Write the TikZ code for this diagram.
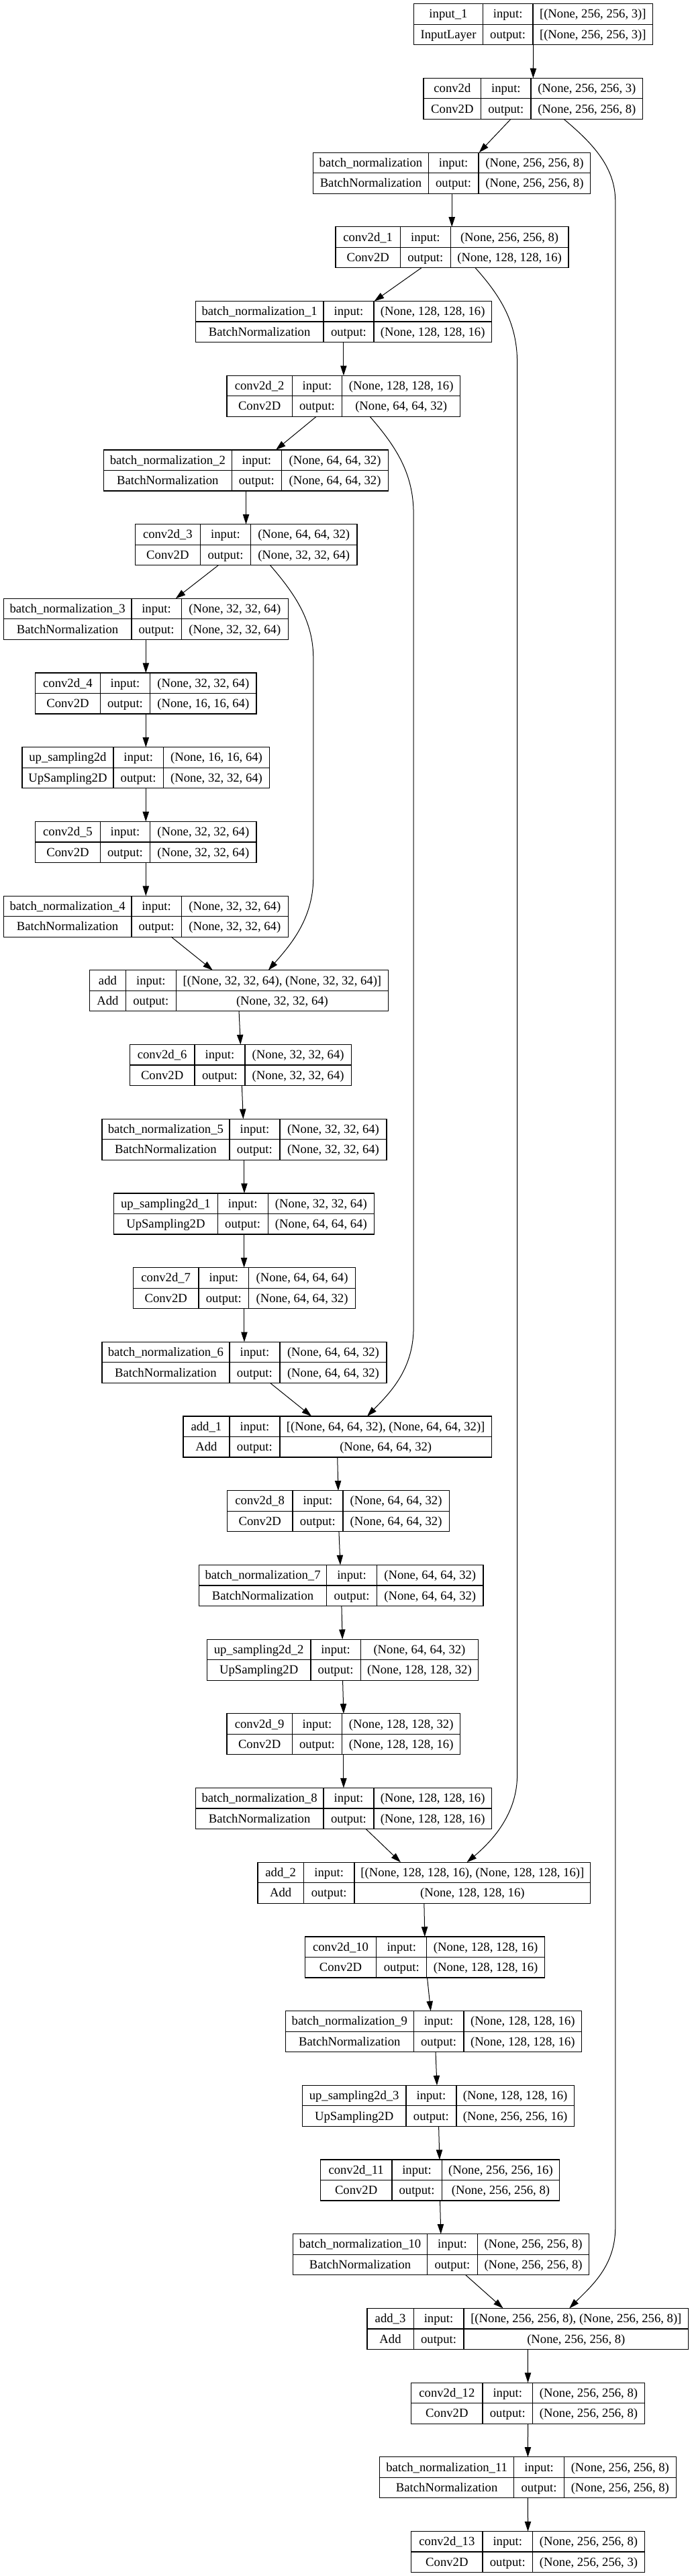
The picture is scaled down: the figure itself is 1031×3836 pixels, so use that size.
\documentclass[tikz,border=0pt]{standalone}
\usepackage{fontspec}
\setmainfont{Liberation Serif}
\usetikzlibrary{arrows.meta}
\newcommand\pxs{*0.75pt}
\newcommand\setcols[4]{\def\xa{#1}\def\xb{#2}\def\xc{#3}\def\xd{#4}}
\newcommand\layer[6]{%
  \pgfmathsetmacro\yt{5.7+110.7*#2}%
  \pgfmathsetmacro\ym{\yt+30.5}%
  \pgfmathsetmacro\yb{\yt+61}%
  \pgfmathsetmacro\ya{\yt+21.2}%
  \pgfmathsetmacro\yc{\yt+51.7}%
  \pgfmathsetmacro\bw{(\xd-\xa)*0.75}%
  \node[layerbox, minimum width=\bw pt] (#1) at ({(\xa+\xd)/2},\ym) {};
  \draw[cellline] (\xb,\yt) -- (\xb,\yb) (\xc,\yt) -- (\xc,\yb) (\xa,\ym) -- (\xd,\ym);
  \node[celltext] (#1-name) at ({(\xa+\xb)/2},\ya) {#3};
  \node[celltext] (#1-type) at ({(\xa+\xb)/2},\yc) {#4};
  \node[celltext] (#1-inl) at ({(\xb+\xc)/2},\ya) {input:};
  \node[celltext] (#1-outl) at ({(\xb+\xc)/2},\yc) {output:};
  \node[celltext] (#1-in) at ({(\xc+\xd)/2},\ya) {#5};
  \node[celltext] (#1-out) at ({(\xc+\xd)/2},\yc) {#6};
}
\tikzset{
  layerbox/.style={draw, line width=0.9pt, rectangle, inner sep=0pt, outer sep=0pt, minimum height=45.75pt},
  cellline/.style={line width=0.9pt},
  celltext/.style={inner sep=0pt, anchor=base, font=\fontsize{14}{16}\selectfont},
  edge/.style={line width=0.75pt, -{Triangle[length=11pt,width=7pt]}}
}
\begin{document}
\begin{tikzpicture}[x=0.75pt,y=-0.75pt]
\useasboundingbox (0,0) rectangle (1031,3836);
\fill[white] (0,0) rectangle (1031,3836);

\setcols{616.7}{719.3}{794}{972.7}
\layer{inp}{0}{input\_1}{InputLayer}{[(None, 256, 256, 3)]}{[(None, 256, 256, 3)]}
\setcols{631}{716.7}{791}{957.7}
\layer{cv0}{1}{conv2d}{Conv2D}{(None, 256, 256, 3)}{(None, 256, 256, 8)}
\setcols{466.7}{638.2}{713}{879.8}
\layer{bn0}{2}{batch\_normalization}{BatchNormalization}{(None, 256, 256, 8)}{(None, 256, 256, 8)}
\setcols{500}{596.5}{671.2}{847}
\layer{cv1}{3}{conv2d\_1}{Conv2D}{(None, 256, 256, 8)}{(None, 128, 128, 16)}
\setcols{291.3}{482}{556.9}{732.5}
\layer{bn1}{4}{batch\_normalization\_1}{BatchNormalization}{(None, 128, 128, 16)}{(None, 128, 128, 16)}
\setcols{338}{435.3}{509.6}{685.8}
\layer{cv2}{5}{conv2d\_2}{Conv2D}{(None, 128, 128, 16)}{(None, 64, 64, 32)}
\setcols{154.5}{345.2}{419.5}{578.6}
\layer{bn2}{6}{batch\_normalization\_2}{BatchNormalization}{(None, 64, 64, 32)}{(None, 64, 64, 32)}
\setcols{201.2}{298.5}{373.5}{531.9}
\layer{cv3}{7}{conv2d\_3}{Conv2D}{(None, 64, 64, 32)}{(None, 32, 32, 64)}
\setcols{5.3}{195.9}{270.2}{429.4}
\layer{bn3}{8}{batch\_normalization\_3}{BatchNormalization}{(None, 32, 32, 64)}{(None, 32, 32, 64)}
\setcols{52.6}{149.3}{223.6}{382}
\layer{cv4}{9}{conv2d\_4}{Conv2D}{(None, 32, 32, 64)}{(None, 16, 16, 64)}
\setcols{32.9}{169}{243.3}{401.7}
\layer{up0}{10}{up\_sampling2d}{UpSampling2D}{(None, 16, 16, 64)}{(None, 32, 32, 64)}
\setcols{52.6}{149.3}{223.6}{382}
\layer{cv5}{11}{conv2d\_5}{Conv2D}{(None, 32, 32, 64)}{(None, 32, 32, 64)}
\setcols{5.3}{195.9}{270.2}{429.4}
\layer{bn4}{12}{batch\_normalization\_4}{BatchNormalization}{(None, 32, 32, 64)}{(None, 32, 32, 64)}
\setcols{133.5}{187.4}{262.3}{578.6}
\layer{ad0}{13}{add}{Add}{[(None, 32, 32, 64), (None, 32, 32, 64)]}{(None, 32, 32, 64)}
\setcols{193.3}{290}{364.9}{523.4}
\layer{cv6}{14}{conv2d\_6}{Conv2D}{(None, 32, 32, 64)}{(None, 32, 32, 64)}
\setcols{151.9}{341.9}{416.9}{576}
\layer{bn5}{15}{batch\_normalization\_5}{BatchNormalization}{(None, 32, 32, 64)}{(None, 32, 32, 64)}
\setcols{169.6}{324.2}{399.1}{557.6}
\layer{up1}{16}{up\_sampling2d\_1}{UpSampling2D}{(None, 32, 32, 64)}{(None, 64, 64, 64)}
\setcols{198.6}{295.9}{370.8}{529.3}
\layer{cv7}{17}{conv2d\_7}{Conv2D}{(None, 64, 64, 64)}{(None, 64, 64, 32)}
\setcols{151.9}{341.9}{416.9}{576}
\layer{bn6}{18}{batch\_normalization\_6}{BatchNormalization}{(None, 64, 64, 32)}{(None, 64, 64, 32)}
\setcols{272.9}{341.9}{416.9}{732.5}
\layer{ad1}{19}{add\_1}{Add}{[(None, 64, 64, 32), (None, 64, 64, 32)]}{(None, 64, 64, 32)}
\setcols{338.6}{435.9}{510.9}{669.3}
\layer{cv8}{20}{conv2d\_8}{Conv2D}{(None, 64, 64, 32)}{(None, 64, 64, 32)}
\setcols{296.5}{486.6}{561.5}{720}
\layer{bn7}{21}{batch\_normalization\_7}{BatchNormalization}{(None, 64, 64, 32)}{(None, 64, 64, 32)}
\setcols{308.4}{462.9}{537.2}{712.7}
\layer{up2}{22}{up\_sampling2d\_2}{UpSampling2D}{(None, 64, 64, 32)}{(None, 128, 128, 32)}
\setcols{338}{435.3}{509.6}{685.8}
\layer{cv9}{23}{conv2d\_9}{Conv2D}{(None, 128, 128, 32)}{(None, 128, 128, 16)}
\setcols{291.3}{482}{556.9}{732.5}
\layer{bn8}{24}{batch\_normalization\_8}{BatchNormalization}{(None, 128, 128, 16)}{(None, 128, 128, 16)}
\setcols{384}{452.4}{528}{879.7}
\layer{ad2}{25}{add\_2}{Add}{[(None, 128, 128, 16), (None, 128, 128, 16)]}{(None, 128, 128, 16)}
\setcols{454.3}{560.8}{635.8}{811.4}
\layer{cv10}{26}{conv2d\_10}{Conv2D}{(None, 128, 128, 16)}{(None, 128, 128, 16)}
\setcols{425.4}{616.1}{691}{866.6}
\layer{bn9}{27}{batch\_normalization\_9}{BatchNormalization}{(None, 128, 128, 16)}{(None, 128, 128, 16)}
\setcols{450.4}{604.9}{679.9}{855.4}
\layer{up3}{28}{up\_sampling2d\_3}{UpSampling2D}{(None, 128, 128, 16)}{(None, 256, 256, 16)}
\setcols{477.4}{583.9}{658.2}{833.7}
\layer{cv11}{29}{conv2d\_11}{Conv2D}{(None, 256, 256, 16)}{(None, 256, 256, 8)}
\setcols{436.6}{636.5}{711.4}{877.8}
\layer{bn10}{30}{batch\_normalization\_10}{BatchNormalization}{(None, 256, 256, 8)}{(None, 256, 256, 8)}
\setcols{547}{616.1}{691}{1025.7}
\layer{ad3}{31}{add\_3}{Add}{[(None, 256, 256, 8), (None, 256, 256, 8)]}{(None, 256, 256, 8)}
\setcols{612.8}{718.9}{793.7}{960.3}
\layer{cv12}{32}{conv2d\_12}{Conv2D}{(None, 256, 256, 8)}{(None, 256, 256, 8)}
\setcols{565.6}{765.7}{840.5}{1007.2}
\layer{bn11}{33}{batch\_normalization\_11}{BatchNormalization}{(None, 256, 256, 8)}{(None, 256, 256, 8)}
\setcols{612.8}{718.9}{793.7}{960.3}
\layer{cv13}{34}{conv2d\_13}{Conv2D}{(None, 256, 256, 8)}{(None, 256, 256, 3)}

% straight connectors
\draw[edge] (inp.south) -- (cv0.south |- cv0.north);
\draw[edge] ([xshift=-33.35\pxs]cv0.south) -- ([xshift=40.55\pxs]bn0.north);
\draw[edge] (bn0.south) -- (bn0.south |- cv1.north);
\draw[edge] ([xshift=-45.6\pxs]cv1.south) -- ([xshift=45.7\pxs]bn1.north);
\draw[edge] (bn1.south) -- (cv2.north);
\draw[edge] ([xshift=-40.5\pxs]cv2.south) -- ([xshift=44.45\pxs]bn2.north);
\draw[edge] (bn2.south) -- (cv3.north);
\draw[edge] ([xshift=-41.05\pxs]cv3.south) -- ([xshift=44.35\pxs]bn3.north);
\draw[edge] (bn3.south) -- (bn3.south |- cv4.north);
\draw[edge] (cv4.south) -- (cv4.south |- up0.north);
\draw[edge] (up0.south) -- (up0.south |- cv5.north);
\draw[edge] (cv5.south) -- (cv5.south |- bn4.north);
\draw[edge] ([xshift=37.75\pxs]bn4.south) -- ([xshift=-39.15\pxs]ad0.north);
\draw[edge] (ad0.south) -- (cv6.north);
\draw[edge] ([xshift=2\pxs]cv6.south) -- ([xshift=-1.6\pxs]bn5.north);
\draw[edge] (bn5.south) -- (bn5.south |- up1.north);
\draw[edge] (up1.south) -- (up1.south |- cv7.north);
\draw[edge] (cv7.south) -- (cv7.south |- bn6.north);
\draw[edge] ([xshift=38.45\pxs]bn6.south) -- ([xshift=-38.5\pxs]ad1.north);
\draw[edge] (ad1.south) -- (cv8.north);
\draw[edge] ([xshift=1\pxs]cv8.south) -- ([xshift=-1.25\pxs]bn7.north);
\draw[edge] ([xshift=0.65\pxs]bn7.south) -- ([xshift=-0.35\pxs]up2.north);
\draw[edge] (up2.south) -- (cv9.north);
\draw[edge] (cv9.south) -- (bn8.north);
\draw[edge] ([xshift=33.2\pxs]bn8.south) -- ([xshift=-34.85\pxs]ad2.north);
\draw[edge] (ad2.south) -- (cv10.north);
\draw[edge] ([xshift=3.65\pxs]cv10.south) -- ([xshift=-4.3\pxs]bn9.north);
\draw[edge] ([xshift=3\pxs]bn9.south) -- ([xshift=-1.9\pxs]up3.north);
\draw[edge] ([xshift=0.7\pxs]up3.south) -- ([xshift=-0.65\pxs]cv11.north);
\draw[edge] (cv11.south) -- ([xshift=-0.4\pxs]bn10.north);
\draw[edge] ([xshift=36.5\pxs]bn10.south) -- ([xshift=-36.75\pxs]ad3.north);
\draw[edge] (ad3.south) -- (cv12.north);
\draw[edge] (cv12.south) -- (bn11.north);
\draw[edge] (bn11.south) -- (cv13.north);

% skip connectors
\draw[edge] ([xshift=45.65\pxs]cv0.south) .. controls (885,215) and (916.8,250) .. (916.8,300)
  -- (916.8,3317) .. controls (916.8,3375) and (880,3405) .. ([xshift=61.85\pxs]ad3.north);
\draw[edge] ([xshift=34.6\pxs]cv1.south) .. controls (745,440) and (770.6,480) .. (770.6,540)
  -- (770.6,2643) .. controls (770.6,2700) and (735,2740) .. ([xshift=63.75\pxs]ad2.north);
\draw[edge] ([xshift=39.1\pxs]cv2.south) .. controls (590,665) and (616.1,705) .. (616.1,765)
  -- (616.1,1977) .. controls (616.1,2040) and (580,2075) .. ([xshift=44.3\pxs]ad1.north);
\draw[edge] ([xshift=35.85\pxs]cv3.south) .. controls (440,885) and (466.8,925) .. (466.8,980)
  -- (466.8,1307) .. controls (466.8,1370) and (430,1410) .. ([xshift=43.75\pxs]ad0.north);
\end{tikzpicture}
\end{document}
